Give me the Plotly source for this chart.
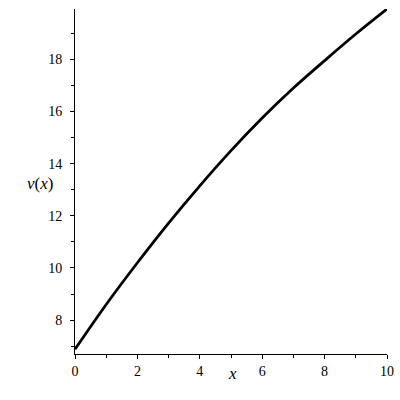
import plotly.graph_objects as go

# values
x_vals = [0, 1, 2, 3, 4, 5, 6, 7, 8, 9, 10]
v_vals = [6.88, 8.6, 10.2, 11.72, 13.15, 14.5, 15.75, 16.9, 17.95, 18.97, 19.93]

x_ticks = [0, 2, 4, 6, 8, 10]
y_ticks = [8, 10, 12, 14, 16, 18]

FONT = 'Liberation Serif, Times New Roman, serif'

fig = go.Figure()
fig.add_trace(go.Scatter(x=x_vals, y=v_vals, mode='lines', line=dict(color='black', width=2.8, shape='spline'), showlegend=False))

axis_common = dict(showgrid=False, zeroline=False, showline=True, linecolor='black', linewidth=1,
                   ticks='outside', ticklen=4, tickcolor='black', tickwidth=1,
                   tickfont=dict(family=FONT, size=14, color='black'))
fig.update_xaxes(range=[0, 10], tickvals=x_ticks, ticklabelstandoff=0,
                 minor=dict(ticks='outside', ticklen=3, tickcolor='black', dtick=1, tick0=0), **axis_common)
fig.update_yaxes(range=[6.7, 19.93], tickvals=y_ticks, ticklabelstandoff=5,
                 minor=dict(ticks='outside', ticklen=3, tickcolor='black', dtick=1, tick0=0), **axis_common)

# axis titles as annotations, like the maple layout
fig.add_annotation(text='<i>x</i>', xref='paper', yref='paper', x=(232 - 75) / 312, y=(354 - 385) / 345,
                   showarrow=False, font=dict(family=FONT, size=17, color='black'))
fig.add_annotation(text='<i>v</i>(<i>x</i>)', xref='paper', yref='paper', x=(25 - 75) / 312, y=(354 - 183) / 345,
                   showarrow=False, font=dict(family=FONT, size=17, color='black'))

fig.update_layout(width=400, height=400, margin=dict(l=75, r=13, t=9, b=46, autoexpand=False),
                  font=dict(family=FONT, color='black'),
                  plot_bgcolor='white', paper_bgcolor='white')
# body margin off so the figure sits at the page corner
fig.write_html('out.html', config={'displayModeBar': False}, post_script="document.body.style.margin='0';")
